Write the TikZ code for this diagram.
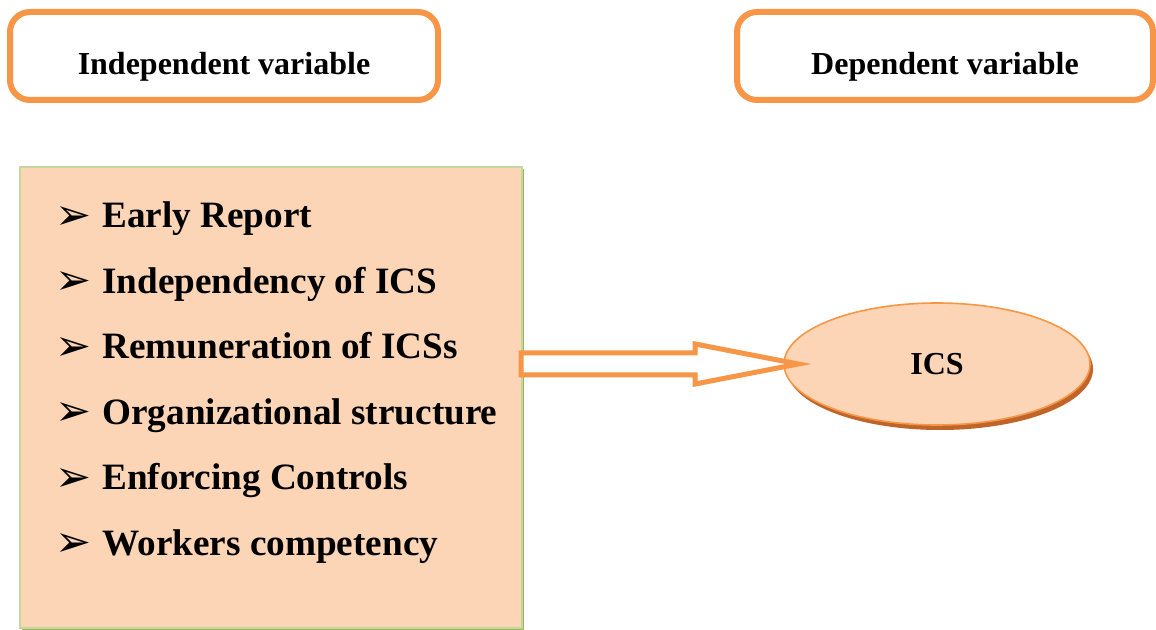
\documentclass[tikz,border=0pt]{standalone}
\usepackage{fontspec}
\setmainfont{Liberation Serif}
\newfontfamily\arrowfont{DejaVu Sans}
\usetikzlibrary{calc,shadows,shapes.geometric}
\definecolor{hdrorange}{HTML}{F79646}
\definecolor{lightpeach}{HTML}{FBD5B5}
\definecolor{boxgreen}{HTML}{C3D69B}
\definecolor{greenshadow}{HTML}{9BBB59}
\definecolor{brownshadow}{HTML}{C0652A}
\begin{document}
\begin{tikzpicture}[x=0.5pt,y=-0.5pt,
  hdr/.style={draw=hdrorange,line width=3pt,rounded corners=10pt,fill=white,
    minimum height=44pt,inner sep=0pt,text height=18.6pt,text depth=0pt,
    font=\fontsize{16}{19}\selectfont\bfseries},
  listbox/.style={draw=boxgreen,line width=1pt,fill=lightpeach,
    minimum width=251pt,minimum height=230.5pt,inner sep=0pt,
    drop shadow={shadow xshift=1pt,shadow yshift=-1pt,fill=greenshadow,opacity=1}},
  itm/.style={anchor=base west,inner sep=0pt,font=\fontsize{18.6}{22}\selectfont\bfseries},
  icsnode/.style={ellipse,draw=hdrorange,line width=0.8pt,fill=lightpeach,
    minimum width=153pt,minimum height=61pt,inner sep=0pt,
    font=\fontsize{16}{19}\selectfont\bfseries,
    drop shadow={shadow xshift=1.5pt,shadow yshift=-2.5pt,fill=brownshadow,opacity=1}},
  blockarr/.style={draw=hdrorange,line width=2.5pt,fill=white,line join=miter}]
  \useasboundingbox (0,0) rectangle (1156,630);
  % headers
  \node[hdr,minimum width=214pt] (hdrIndep) at (224,56) {Independent variable};
  \node[hdr,minimum width=208pt] (hdrDep) at (945,56) {Dependent variable};
  % factor list
  \node[listbox] (lst) at (271,397.5) {};
  \foreach \txt [count=\i from 0] in {Early Report,Independency of ICS,Remuneration of ICSs,
      Organizational structure,Enforcing Controls,Workers competency}
    \node[itm] (it\i) at (55,228+65.4*\i)
      {\makebox[23.5pt][l]{\raisebox{-0.8pt}{\arrowfont\fontsize{21.5}{22}\selectfont ➢}}\txt};
  % outcome
  \node[icsnode] (ics) at (937,364) {ICS};
  % block arrow from list to outcome
  \coordinate (arrS) at ([xshift=-1pt]lst.east |- ics.west);
  \draw[blockarr] ($(arrS)+(0,-11)$) -- ($(ics.west)+(-88,-11)$) -- ++(0,-9)
    -- ($(ics.west)+(15,0)$) -- ($(ics.west)+(-88,20)$) -- ++(0,-9)
    -- ($(arrS)+(0,11)$) -- cycle;
\end{tikzpicture}
\end{document}
